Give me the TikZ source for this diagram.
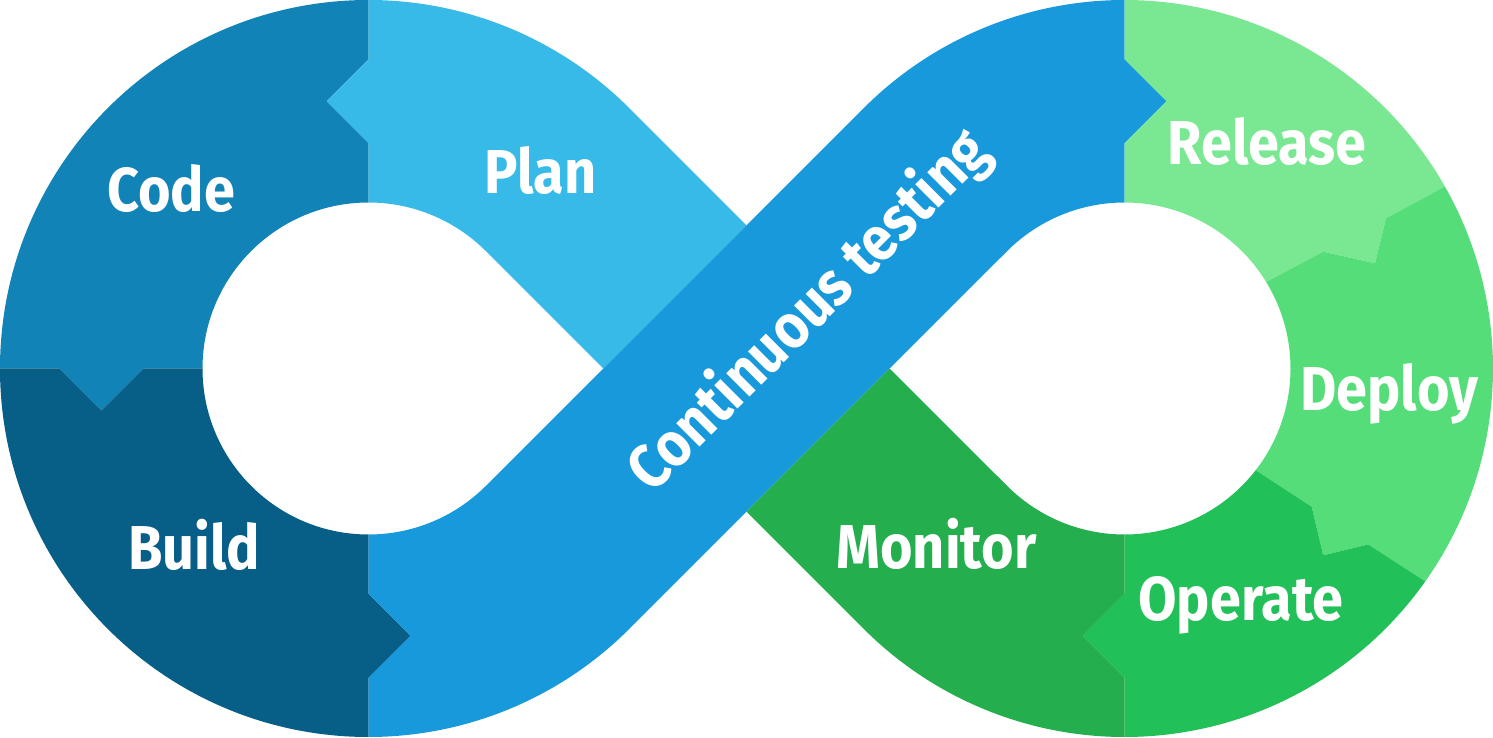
\documentclass[tikz,border=0pt]{standalone}
\usepackage{fontspec}
\setmainfont{Fira Sans}
\definecolor{cCode}{HTML}{1283B6}
\definecolor{cPlan}{HTML}{38BAE8}
\definecolor{cBuild}{HTML}{075E87}
\definecolor{cTest}{HTML}{1899DC}
\definecolor{cRelease}{HTML}{7AE893}
\definecolor{cDeploy}{HTML}{55DD7A}
\definecolor{cOperate}{HTML}{22C058}
\definecolor{cMonitor}{HTML}{24AE4E}
\begin{document}
\begin{tikzpicture}[x=1pt,y=1pt,
  lblbase/.style={text=white, font=\fontsize{62}{62}\selectfont\bfseries, inner sep=0pt, anchor=base},
  lbl/.style={lblbase, xscale=0.9}]
\useasboundingbox (0,0) rectangle (1493,737);
% ---------- left loop ----------
\begin{scope}[shift={(368.5,368.5)}]
  % Code
  \fill[cCode] (0,368.5) arc[start angle=90,end angle=180,radius=368.5]
    -- (-309.25,0) -- (-267.25,-42) -- (-225.25,0) -- (-166,0)
    arc[start angle=180,end angle=90,radius=166]
    -- (0,225.25) -- (-42,267.25) -- (0,309.25) -- cycle;
  % Plan
  \fill[cPlan] (0,368.5) arc[start angle=90,end angle=45,radius=368.5]
    -- (377.95,143.19) -- (234.76,0) -- (117.38,117.38)
    arc[start angle=45,end angle=90,radius=166]
    -- (0,225.25) -- (-42,267.25) -- (0,309.25) -- cycle;
  % Build
  \fill[cBuild] (-368.5,0) arc[start angle=180,end angle=270,radius=368.5]
    -- (0,-309.25) -- (42,-267.25) -- (0,-225.25) -- (0,-166)
    arc[start angle=270,end angle=180,radius=166]
    -- (-225.25,0) -- (-267.25,-42) -- (-309.25,0) -- cycle;
  % Continuous testing band
  \fill[cTest] (0,-368.5) arc[start angle=270,end angle=315,radius=368.5]
    -- (638.62,117.38) arc[start angle=135,end angle=90,radius=166]
    -- (756,225.25) -- (798,267.25) -- (756,309.25) -- (756,368.5)
    arc[start angle=90,end angle=135,radius=368.5]
    -- (117.38,-117.38) arc[start angle=-45,end angle=-90,radius=166]
    -- (0,-225.25) -- (42,-267.25) -- (0,-309.25) -- cycle;
\end{scope}
% ---------- right loop ----------
\begin{scope}[shift={(1124.5,368.5)}]
  % Release
  \fill[cRelease] (0,368.5) arc[start angle=90,end angle=29.6,radius=368.5]
    -- (261.5,150.2) -- (250.5,105.2) -- (198.8,116.8) -- (31.4:166)
    arc[start angle=31.4,end angle=90,radius=166]
    -- (0,225.25) -- (42,267.25) -- (0,309.25) -- cycle;
  % Deploy
  \fill[cDeploy] (29.6:368.5) arc[start angle=29.6,end angle=-35.3,radius=368.5]
    -- (243.7,-176) -- (198.7,-186.8) -- (187.2,-138.3) -- (-37.8:166)
    arc[start angle=-37.8,end angle=31.4,radius=166]
    -- (198.8,116.8) -- (250.5,105.2) -- (261.5,150.2) -- cycle;
  % Operate
  \fill[cOperate] (-35.3:368.5) arc[start angle=-35.3,end angle=-90,radius=368.5]
    -- (0,-309.25) -- (-42,-267.25) -- (0,-225.25) -- (0,-166)
    arc[start angle=-90,end angle=-37.8,radius=166]
    -- (187.2,-138.3) -- (198.7,-186.8) -- (243.7,-176) -- cycle;
  % Monitor
  \fill[cMonitor] (0,-368.5) arc[start angle=-90,end angle=-135,radius=368.5]
    -- (-378.0,-143.1) -- (-234.8,0) -- (-117.38,-117.38)
    arc[start angle=-135,end angle=-90,radius=166]
    -- (0,-225.25) -- (-42,-267.25) -- (0,-309.25) -- cycle;
\end{scope}
% ---------- labels ----------
\node[lbl] (code) at (171,525.2) {Code};
\node[lbl] (plan) at (540.5,543.6) {Plan};
\node[lbl] (build) at (194.3,167.6) {Build};
\node[lbl] (release) at (1267,572.3) {Release};
\node[lbl] (deploy) at (1389.2,326.2) {Deploy};
\node[lbl] (operate) at (1240.9,116.8) {Operate};
\node[lbl] (monitor) at (936.4,168.5) {Monitor};
\node[lblbase, rotate=45, xscale=0.9] (test) at (822.75,412.75) {Continuous testing};
\end{tikzpicture}
\end{document}
